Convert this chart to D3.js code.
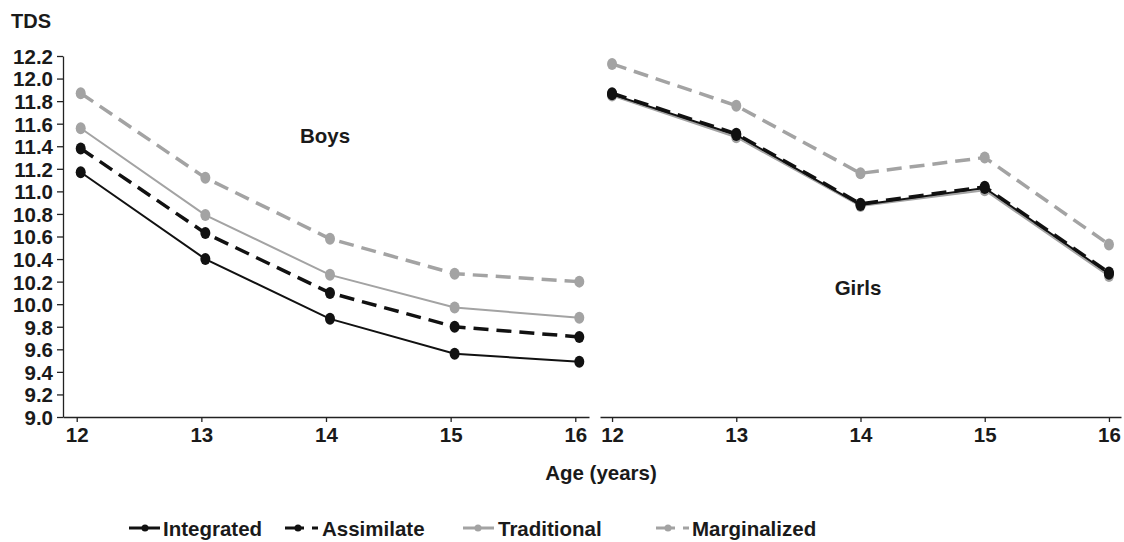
<!DOCTYPE html>
<html><head><meta charset="utf-8">
<script src="https://cdn.jsdelivr.net/npm/d3@7"></script>
<style>body{margin:0;background:#fff}svg{display:block}text{font-family:"Liberation Sans",Arial,Helvetica,sans-serif;font-weight:bold;fill:#1a1a1a}</style>
</head><body><svg id="c" width="1124" height="542"></svg>
<script>
const ages = [12, 13, 14, 15, 16];
const seriesNames = ["Integrated", "Assimilate", "Traditional", "Marginalized"];
const boysIntegrated   = [11.17, 10.40, 9.87, 9.56, 9.49];
const boysAssimilate   = [11.38, 10.63, 10.10, 9.80, 9.71];
const boysTraditional  = [11.56, 10.79, 10.26, 9.97, 9.88];
const boysMarginalized = [11.87, 11.12, 10.58, 10.27, 10.20];
const girlsIntegrated   = [11.86, 11.50, 10.88, 11.03, 10.27];
const girlsAssimilate   = [11.87, 11.51, 10.89, 11.04, 10.28];
const girlsTraditional  = [11.85, 11.48, 10.87, 11.01, 10.25];
const girlsMarginalized = [12.13, 11.76, 11.16, 11.30, 10.53];
const yTicks = [9.0, 9.2, 9.4, 9.6, 9.8, 10.0, 10.2, 10.4, 10.6, 10.8, 11.0, 11.2, 11.4, 11.6, 11.8, 12.0, 12.2];
const yTitle = "TDS";
const xTitle = "Age (years)";
const panelLabels = ["Boys", "Girls"];

const styles = {
  Integrated:   {color: "#111", width: 2, dash: null},
  Assimilate:   {color: "#111", width: 3.5, dash: "15,8"},
  Traditional:  {color: "#a3a3a3", width: 2, dash: null},
  Marginalized: {color: "#a3a3a3", width: 3.5, dash: "15,8"}
};

const svg = d3.select("#c");
const y = d3.scaleLinear().domain([9.0, 12.2]).range([417, 56]);

const panels = [
  {label: panelLabels[0], range: [63, 589], pad: 0.11, shift: 4, lx: 325, ly: 135,
   data: {Integrated: boysIntegrated, Assimilate: boysAssimilate, Traditional: boysTraditional, Marginalized: boysMarginalized}},
  {label: panelLabels[1], range: [600, 1121], pad: 0.097, shift: 0, lx: 858, ly: 287,
   data: {Integrated: girlsIntegrated, Assimilate: girlsAssimilate, Traditional: girlsTraditional, Marginalized: girlsMarginalized}}
];

// Y axis
const yAxis = svg.append("g").attr("transform", "translate(63,0)")
  .call(d3.axisLeft(y).tickValues(yTicks).tickFormat(d3.format(".1f")).tickSizeInner(6).tickSizeOuter(0).tickPadding(4));
yAxis.select(".domain").attr("stroke", "#222").attr("stroke-width", 1.3);
yAxis.selectAll(".tick line").attr("stroke", "#222").attr("stroke-width", 1.3);
yAxis.selectAll(".tick text").attr("font-size", 20.5).attr("font-family", null).attr("fill", "#1a1a1a").attr("dy", "0.36em");

svg.append("text").attr("x", 11).attr("y", 28).attr("font-size", 20).text(yTitle);

const drawOrder = ["Marginalized", "Traditional", "Assimilate", "Integrated"];

panels.forEach(p => {
  const x = d3.scalePoint().domain(ages).range(p.range).padding(p.pad);
  const xp = x.copy().range(p.range.map(v => v + p.shift));
  const ax = svg.append("g").attr("transform", "translate(0,417)")
    .call(d3.axisBottom(x).tickSizeInner(5).tickSizeOuter(0).tickPadding(5));
  ax.select(".domain").attr("stroke", "#222").attr("stroke-width", 1.3);
  ax.selectAll(".tick line").attr("stroke", "#222").attr("stroke-width", 1.3);
  ax.selectAll(".tick text").attr("font-size", 20.5).attr("font-family", null).attr("fill", "#1a1a1a");

  const line = d3.line().x((d, i) => xp(ages[i])).y(d => y(d));
  drawOrder.forEach(name => {
    const s = styles[name];
    const vals = p.data[name];
    svg.append("path").datum(vals).attr("d", line).attr("fill", "none")
      .attr("stroke", s.color).attr("stroke-width", s.width)
      .attr("stroke-dasharray", s.dash);
    svg.append("g").selectAll("ellipse").data(vals).join("ellipse")
      .attr("cx", (d, i) => xp(ages[i])).attr("cy", d => y(d))
      .attr("rx", 5).attr("ry", 6).attr("fill", s.color);
  });
  svg.append("text").attr("x", p.lx).attr("y", p.ly).attr("text-anchor", "middle")
    .attr("dominant-baseline", "central").attr("font-size", 20.5).text(p.label);
});

svg.append("text").attr("x", 601).attr("y", 472).attr("text-anchor", "middle")
  .attr("dominant-baseline", "central").attr("font-size", 20.5).text(xTitle);

// Legend
const legendPos = [
  {x0: 129, x1: 160, dot: 145, tx: 163},
  {x0: 285, x1: 318, dot: 298, tx: 322},
  {x0: 463, x1: 494, dot: 478, tx: 498},
  {x0: 656, x1: 689, dot: 668, tx: 692}
];
const ly = 528;
seriesNames.forEach((name, i) => {
  const s = styles[name], lp = legendPos[i];
  const g = svg.append("g");
  g.append("line").attr("x1", lp.x0).attr("x2", lp.x1).attr("y1", ly).attr("y2", ly)
    .attr("stroke", s.color).attr("stroke-width", 3)
    .attr("stroke-dasharray", s.dash ? "19,8" : null);
  g.append("ellipse").attr("cx", lp.dot).attr("cy", ly).attr("rx", 3.5).attr("ry", 3.5).attr("fill", s.color);
  g.append("text").attr("x", lp.tx).attr("y", ly).attr("dominant-baseline", "central")
    .attr("font-size", 20.5).text(name);
});
</script></body></html>
